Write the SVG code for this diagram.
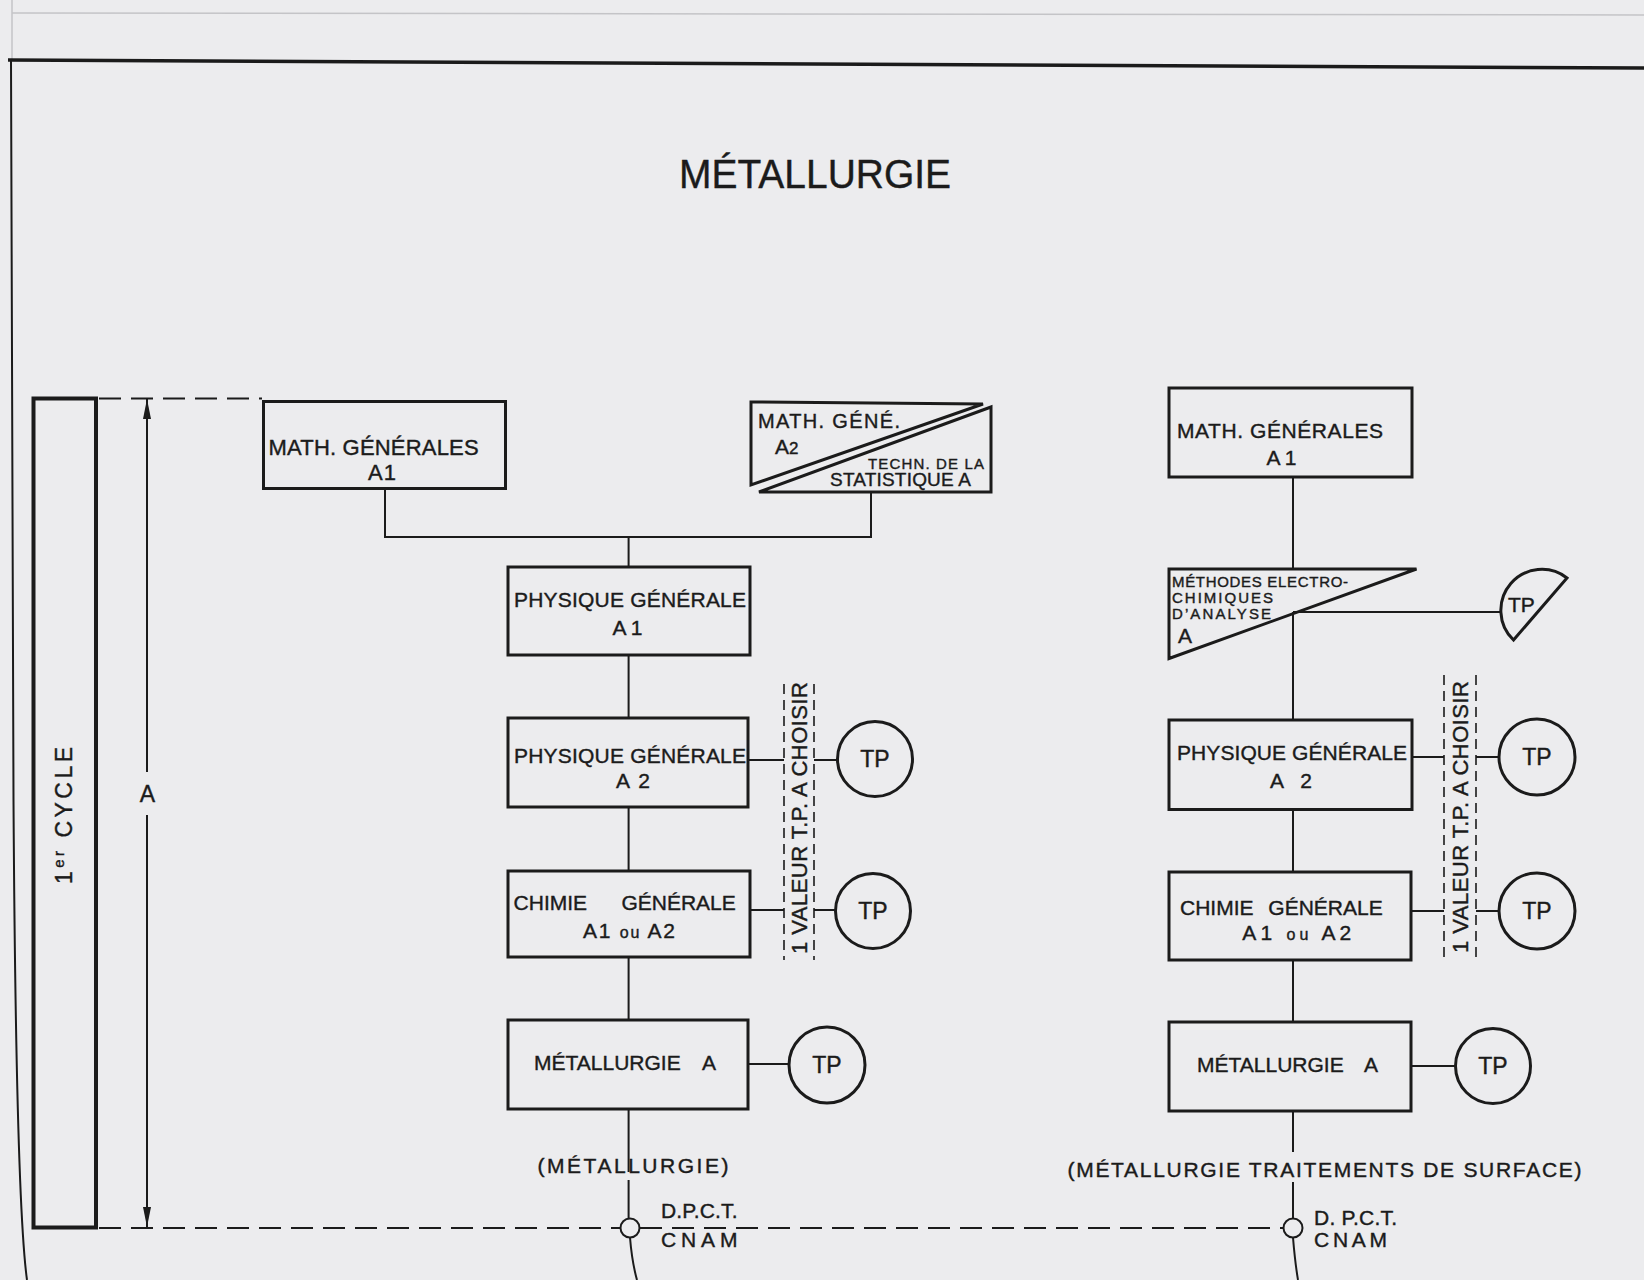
<svg xmlns="http://www.w3.org/2000/svg" width="1644" height="1280" viewBox="0 0 1644 1280">
<style>
.bg{fill:#ececee}
.box{fill:none;stroke:#1b1b1b;stroke-width:3}
.ln{fill:none;stroke:#1b1b1b;stroke-width:2}
.dl{fill:none;stroke:#1b1b1b;stroke-width:2;stroke-dasharray:22 10}
.ds{fill:none;stroke:#1b1b1b;stroke-width:1.6;stroke-dasharray:10 6}
.faint{fill:none;stroke:#c4c4c7;stroke-width:1.5}
.t{font-family:"Liberation Sans",Arial,sans-serif;fill:#1b1b1b;stroke:#1b1b1b;stroke-width:0.4}
.tp{font-family:"Liberation Sans",Arial,sans-serif;fill:#1b1b1b;stroke:#1b1b1b;stroke-width:0.4;font-size:23px;text-anchor:middle}
</style>
<defs>
<marker id="arr" viewBox="0 0 20 8" refX="20" refY="4" markerWidth="20" markerHeight="8" markerUnits="userSpaceOnUse" orient="auto-start-reverse">
<path d="M0 0 L20 4 L0 8 Z" fill="#1b1b1b"/>
</marker>
</defs>
<rect class="bg" x="0" y="0" width="1644" height="1280"/>

<g id="frame">
<line class="faint" x1="12" y1="13" x2="1644" y2="15"/>
<line class="faint" x1="12" y1="0" x2="12" y2="60"/>
<line x1="8" y1="60" x2="1644" y2="68" stroke="#1b1b1b" stroke-width="3.5"/>
<path d="M11 60 L13.5 800 Q16 1200 27 1280" fill="none" stroke="#1b1b1b" stroke-width="2"/>
</g>

<g id="title">
<text class="t" x="679" y="188" font-size="40" textLength="272" lengthAdjust="spacingAndGlyphs">MÉTALLURGIE</text>
</g>

<g id="cycle">
<rect x="33.5" y="398.5" width="62.5" height="829" fill="none" stroke="#1b1b1b" stroke-width="4"/>
<text class="t" font-size="23" text-anchor="middle" transform="translate(63.5,815.5) rotate(-90)" y="8" textLength="137">1<tspan font-size="15" dy="-8">er</tspan><tspan dy="8"> CYCLE</tspan></text>
</g>

<g id="dim-A">
<line class="ln" x1="147" y1="399" x2="147" y2="772" stroke-width="1.6" marker-start="url(#arr)"/>
<line class="ln" x1="147" y1="815" x2="147" y2="1227" stroke-width="1.6" marker-end="url(#arr)"/>
<text class="t" x="147.5" y="802" font-size="23" text-anchor="middle">A</text>
</g>

<g id="connectors">
<line class="dl" x1="99" y1="398.5" x2="262" y2="398.5" stroke-dasharray="20 9"/>
<line class="dl" x1="99" y1="1228" x2="621" y2="1228"/>
<line class="dl" x1="640" y1="1228" x2="1284" y2="1228"/>
<path class="ln" d="M385 488.5 V537 H871 V492"/>
<path class="ln" d="M628.6 537 V567"/>
<path class="ln" d="M628.6 655 V718 M628.6 807 V871 M628.6 957 V1020 M628.6 1109 V1172 M628.6 1180 V1219"/>
<path class="ln" d="M748 760 H784 M814 760 H837.5"/>
<path class="ln" d="M750 910 H784 M814 910 H835"/>
<path class="ln" d="M748 1064 H789"/>
<path class="ln" d="M630 1237.5 Q632 1262 637 1280"/>
<path class="ln" d="M1293 477 V569 M1293 612 V720 M1293 809.5 V872 M1293 960 V1022 M1293 1111 V1152 M1293 1182 V1219"/>
<path class="ln" d="M1293 612 H1500"/>
<path class="ln" d="M1412 757 H1444 M1476 757 H1499"/>
<path class="ln" d="M1411 911 H1444 M1476 911 H1499"/>
<path class="ln" d="M1411 1066 H1455"/>
<path class="ln" d="M1293 1237.5 Q1295 1262 1298 1280"/>
<line class="ds" x1="784" y1="684" x2="784" y2="960"/>
<line class="ds" x1="814" y1="684" x2="814" y2="960"/>
<line class="ds" x1="1444" y1="675" x2="1444" y2="962"/>
<line class="ds" x1="1476" y1="675" x2="1476" y2="962"/>
</g>

<g id="choice-left">
<text class="t" font-size="22" text-anchor="middle" transform="translate(799,818) rotate(-90)" y="8" textLength="272">1 VALEUR T.P. A CHOISIR</text>
</g>
<g id="choice-right">
<text class="t" font-size="22" text-anchor="middle" transform="translate(1460,817) rotate(-90)" y="8" textLength="272">1 VALEUR T.P. A CHOISIR</text>
</g>

<g id="math-gen-a1-left">
<rect class="box" x="263.5" y="401.5" width="242" height="87"/>
<text class="t" x="268.6" y="455" font-size="22" textLength="210">MATH. GÉNÉRALES</text>
<text class="t" x="368" y="480" font-size="22" textLength="28">A1</text>
</g>

<g id="math-gene-a2-stat">
<path class="box" d="M751 402 L983 404 L751 485 Z"/>
<path class="box" d="M759 492 L991 407 L991 492 Z"/>
<text class="t" x="758" y="428" font-size="20" textLength="142">MATH. GÉNÉ.</text>
<text class="t" x="775" y="454" font-size="21">A<tspan font-size="17">2</tspan></text>
<text class="t" x="868" y="469" font-size="15" textLength="116">TECHN. DE LA</text>
<text class="t" x="830" y="486" font-size="19" textLength="141">STATISTIQUE A</text>
</g>

<g id="physique-a1">
<rect class="box" x="508" y="567" width="242" height="88"/>
<text class="t" x="514" y="607" font-size="21" textLength="232">PHYSIQUE GÉNÉRALE</text>
<text class="t" x="612.5" y="635" font-size="21" textLength="30">A1</text>
</g>

<g id="physique-a2-left">
<rect class="box" x="508" y="718" width="240" height="89"/>
<text class="t" x="514" y="763" font-size="21" textLength="232">PHYSIQUE GÉNÉRALE</text>
<text class="t" x="616" y="788" font-size="21" textLength="34">A 2</text>
</g>

<g id="tp-phys-left">
<circle class="box" cx="875" cy="759" r="37.5" stroke-width="2.5"/>
<text class="tp" x="875" y="767">TP</text>
</g>

<g id="chimie-left">
<rect class="box" x="508" y="871" width="242" height="86"/>
<text class="t" y="910" font-size="21"><tspan x="513.6">CHIMIE</tspan> <tspan x="621.4">GÉNÉRALE</tspan></text>
<text class="t" x="583" y="938" font-size="21" textLength="92">A1 <tspan font-size="16">ou</tspan> A2</text>
</g>

<g id="tp-chimie-left">
<circle class="box" cx="873" cy="911" r="37.5" stroke-width="2.5"/>
<text class="tp" x="873" y="919">TP</text>
</g>

<g id="metallurgie-a-left">
<rect class="box" x="508" y="1020" width="240" height="89"/>
<text class="t" y="1070" font-size="21"><tspan x="534">MÉTALLURGIE</tspan> <tspan x="702">A</tspan></text>
</g>

<g id="tp-met-left">
<circle class="box" cx="827" cy="1065" r="38" stroke-width="2.5"/>
<text class="tp" x="827" y="1073">TP</text>
</g>

<g id="exit-left">
<text class="t" x="537.5" y="1173" font-size="21" textLength="191">(MÉTALLURGIE)</text>
<circle cx="630" cy="1228" r="9.5" fill="#ececee" stroke="#1b1b1b" stroke-width="2"/>
<text class="t" x="661" y="1218" font-size="21" textLength="76.5">D.P.C.T.</text>
<text class="t" x="661" y="1247" font-size="21" textLength="76.5">CNAM</text>
</g>

<g id="math-gen-a1-right">
<rect class="box" x="1169" y="388" width="243" height="89"/>
<text class="t" x="1177" y="438" font-size="21" textLength="206">MATH. GÉNÉRALES</text>
<text class="t" x="1266.5" y="465" font-size="21" textLength="30">A1</text>
</g>

<g id="methodes-electro">
<path class="box" d="M1169 569 L1416.5 569 L1169 658.5 Z"/>
<text class="t" x="1172" y="586.5" font-size="15" textLength="176">MÉTHODES ELECTRO-</text>
<text class="t" x="1172" y="603" font-size="15" textLength="101">CHIMIQUES</text>
<text class="t" x="1172" y="619" font-size="15" textLength="99">D’ANALYSE</text>
<text class="t" x="1178" y="643" font-size="21">A</text>
</g>

<g id="tp-methodes">
<path class="box" stroke-width="2.5" d="M1513.5 640 A41 41 0 0 1 1567 578 Z"/>
<text class="t" x="1508" y="612" font-size="21">TP</text>
</g>

<g id="physique-a2-right">
<rect class="box" x="1169" y="720" width="243" height="89.5"/>
<text class="t" x="1177" y="760" font-size="21" textLength="230">PHYSIQUE GÉNÉRALE</text>
<text class="t" x="1270" y="788" font-size="21" textLength="42">A 2</text>
</g>

<g id="tp-phys-right">
<circle class="box" cx="1537" cy="757" r="38" stroke-width="2.5"/>
<text class="tp" x="1537" y="765">TP</text>
</g>

<g id="chimie-right">
<rect class="box" x="1169" y="872" width="242" height="88"/>
<text class="t" y="915" font-size="21"><tspan x="1180">CHIMIE</tspan> <tspan x="1268.3">GÉNÉRALE</tspan></text>
<text class="t" x="1242.3" y="940" font-size="21" textLength="109">A1 <tspan font-size="16">ou</tspan> A2</text>
</g>

<g id="tp-chimie-right">
<circle class="box" cx="1537" cy="911" r="38" stroke-width="2.5"/>
<text class="tp" x="1537" y="919">TP</text>
</g>

<g id="metallurgie-a-right">
<rect class="box" x="1169" y="1022" width="242" height="89"/>
<text class="t" y="1072" font-size="21"><tspan x="1197">MÉTALLURGIE</tspan> <tspan x="1364">A</tspan></text>
</g>

<g id="tp-met-right">
<circle class="box" cx="1493" cy="1066" r="37.5" stroke-width="2.5"/>
<text class="tp" x="1493" y="1074">TP</text>
</g>

<g id="exit-right">
<text class="t" x="1067.5" y="1177" font-size="21" textLength="514">(MÉTALLURGIE TRAITEMENTS DE SURFACE)</text>
<circle cx="1293" cy="1228" r="9.5" fill="#ececee" stroke="#1b1b1b" stroke-width="2"/>
<text class="t" x="1314" y="1225" font-size="21" textLength="83">D. P.C.T.</text>
<text class="t" x="1314" y="1247" font-size="21" textLength="73">CNAM</text>
</g>
</svg>
